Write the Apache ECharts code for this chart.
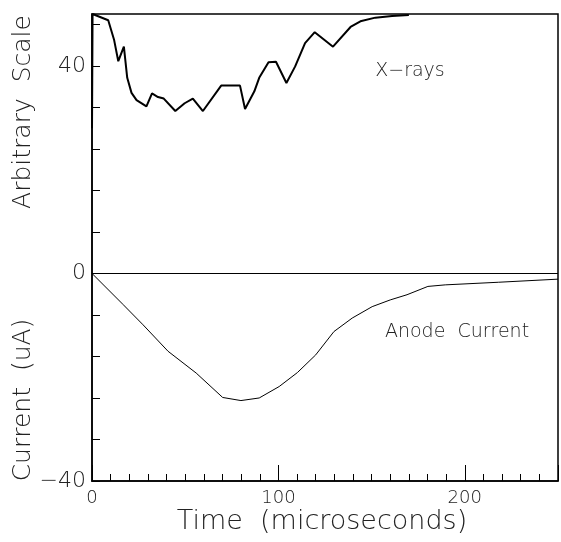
<!DOCTYPE html>
<html>
<head>
<meta charset="utf-8">
<script src="https://cdn.jsdelivr.net/npm/echarts@6/dist/echarts.min.js"></script>
<style>
html,body{margin:0;padding:0;background:#fff;}
#chart{width:561px;height:542px;}
</style>
</head>
<body>
<div id="chart"></div>
<script>
// X-ray signal (arbitrary scale): [time µs, value]
const xrayTime = [0, 0.3, 8.7, 11.8, 14.1, 17.1, 18.9, 21.2, 23.9, 29.2, 32.2, 35.4, 38.5, 44.7, 49.7, 54.1, 59.5, 69.3, 79.4, 82.1, 87.1, 89.7, 94.7, 98.7, 104.3, 109, 114.3, 119.5, 129.3, 138.7, 144, 152, 161, 170];
const xrayValue = [28, 50, 48.8, 45.1, 40.9, 43.7, 37.7, 34.8, 33.4, 32.2, 34.7, 34.0, 33.7, 31.3, 32.8, 33.7, 31.3, 36.2, 36.2, 31.7, 35.1, 37.7, 40.7, 40.8, 36.7, 39.9, 44.4, 46.5, 43.7, 47.5, 48.6, 49.3, 49.6, 49.8];
// Anode current (uA)
const anodeTime = [0, 16.7, 27.4, 40.8, 55.9, 70.1, 79.9, 89.7, 100.4, 110.2, 120, 129.8, 139.6, 150.3, 160, 169, 180.2, 189.5, 218, 250];
const anodeValue = [0, -6.0, -9.9, -15.0, -19.2, -23.9, -24.5, -24.0, -21.8, -19.1, -15.7, -11.2, -8.6, -6.4, -5.1, -4.1, -2.5, -2.2, -1.7, -1.1];
// axis labels
const yLabels = [-40, 0, 40];
const xLabels = [0, 100, 200];

const FONT = '"DejaVu Sans"';
const W = 200;
const TXT = '#222';

const chart = echarts.init(document.getElementById('chart'), null, {renderer: 'canvas'});
chart.setOption({
  animation: false,
  backgroundColor: '#fff',
  grid: {left: 92, right: 2, top: 14, bottom: 61, show: true, borderColor: '#000', borderWidth: 1.5, backgroundColor: 'transparent'},
  xAxis: {
    type: 'value', min: 0, max: 250, interval: 100,
    axisLine: {show: true, onZero: false, lineStyle: {color: '#000', width: 1.5}},
    axisTick: {show: true, inside: true, length: 16, lineStyle: {color: '#000', width: 1}},
    minorTick: {show: true, splitNumber: 10, length: 7, lineStyle: {color: '#000', width: 1}},
    splitLine: {show: false},
    axisLabel: {
      color: TXT, fontFamily: 'DejaVu Sans', fontWeight: W, fontSize: 18, margin: 8,
      formatter: v => xLabels.indexOf(v) >= 0 ? String(v) : ''
    }
  },
  yAxis: {
    type: 'value', min: -40, max: 50, interval: 8,
    axisLine: {show: true, onZero: false, lineStyle: {color: '#000', width: 1.5}},
    axisTick: {show: true, inside: true, length: 8, lineStyle: {color: '#000', width: 1}},
    splitLine: {show: false},
    axisLabel: {
      color: TXT, fontFamily: 'DejaVu Sans', fontWeight: W, fontSize: 22, margin: 6,
      showMaxLabel: false,
      formatter: v => yLabels.indexOf(v) >= 0 ? (v < 0 ? '\u2212' + Math.abs(v) : String(v)) : ''
    }
  },
  series: [
    {
      type: 'line', name: 'X-rays', symbol: 'none',
      data: xrayTime.map((t, i) => [t, xrayValue[i]]),
      lineStyle: {color: '#000', width: 2},
      markLine: {
        silent: true, symbol: 'none', label: {show: false},
        lineStyle: {color: '#000', width: 1, type: 'solid'},
        data: [{yAxis: 0}]
      }
    },
    {
      type: 'line', name: 'Anode Current', symbol: 'none',
      data: anodeTime.map((t, i) => [t, anodeValue[i]]),
      lineStyle: {color: '#000', width: 1}
    }
  ],
  graphic: [
    {type: 'text', x: 410, y: 71, style: {text: 'X\u2212rays', font: W + ' 19px ' + FONT, fill: TXT, textAlign: 'center', textVerticalAlign: 'middle'}},
    {type: 'text', x: 457, y: 332, style: {text: 'Anode  Current', font: W + ' 19px ' + FONT, fill: TXT, textAlign: 'center', textVerticalAlign: 'middle'}},
    {type: 'text', x: 23, y: 112, rotation: Math.PI / 2, style: {text: 'Arbitrary  Scale', font: W + ' 25px ' + FONT, fill: TXT, textAlign: 'center', textVerticalAlign: 'middle'}},
    {type: 'text', x: 23, y: 400, rotation: Math.PI / 2, style: {text: 'Current  (uA)', font: W + ' 25px ' + FONT, fill: TXT, textAlign: 'center', textVerticalAlign: 'middle'}},
    {type: 'text', x: 322, y: 522, style: {text: 'Time  (microseconds)', font: W + ' 27px ' + FONT, fill: TXT, textAlign: 'center', textVerticalAlign: 'middle'}}
  ]
});
</script>
</body>
</html>
